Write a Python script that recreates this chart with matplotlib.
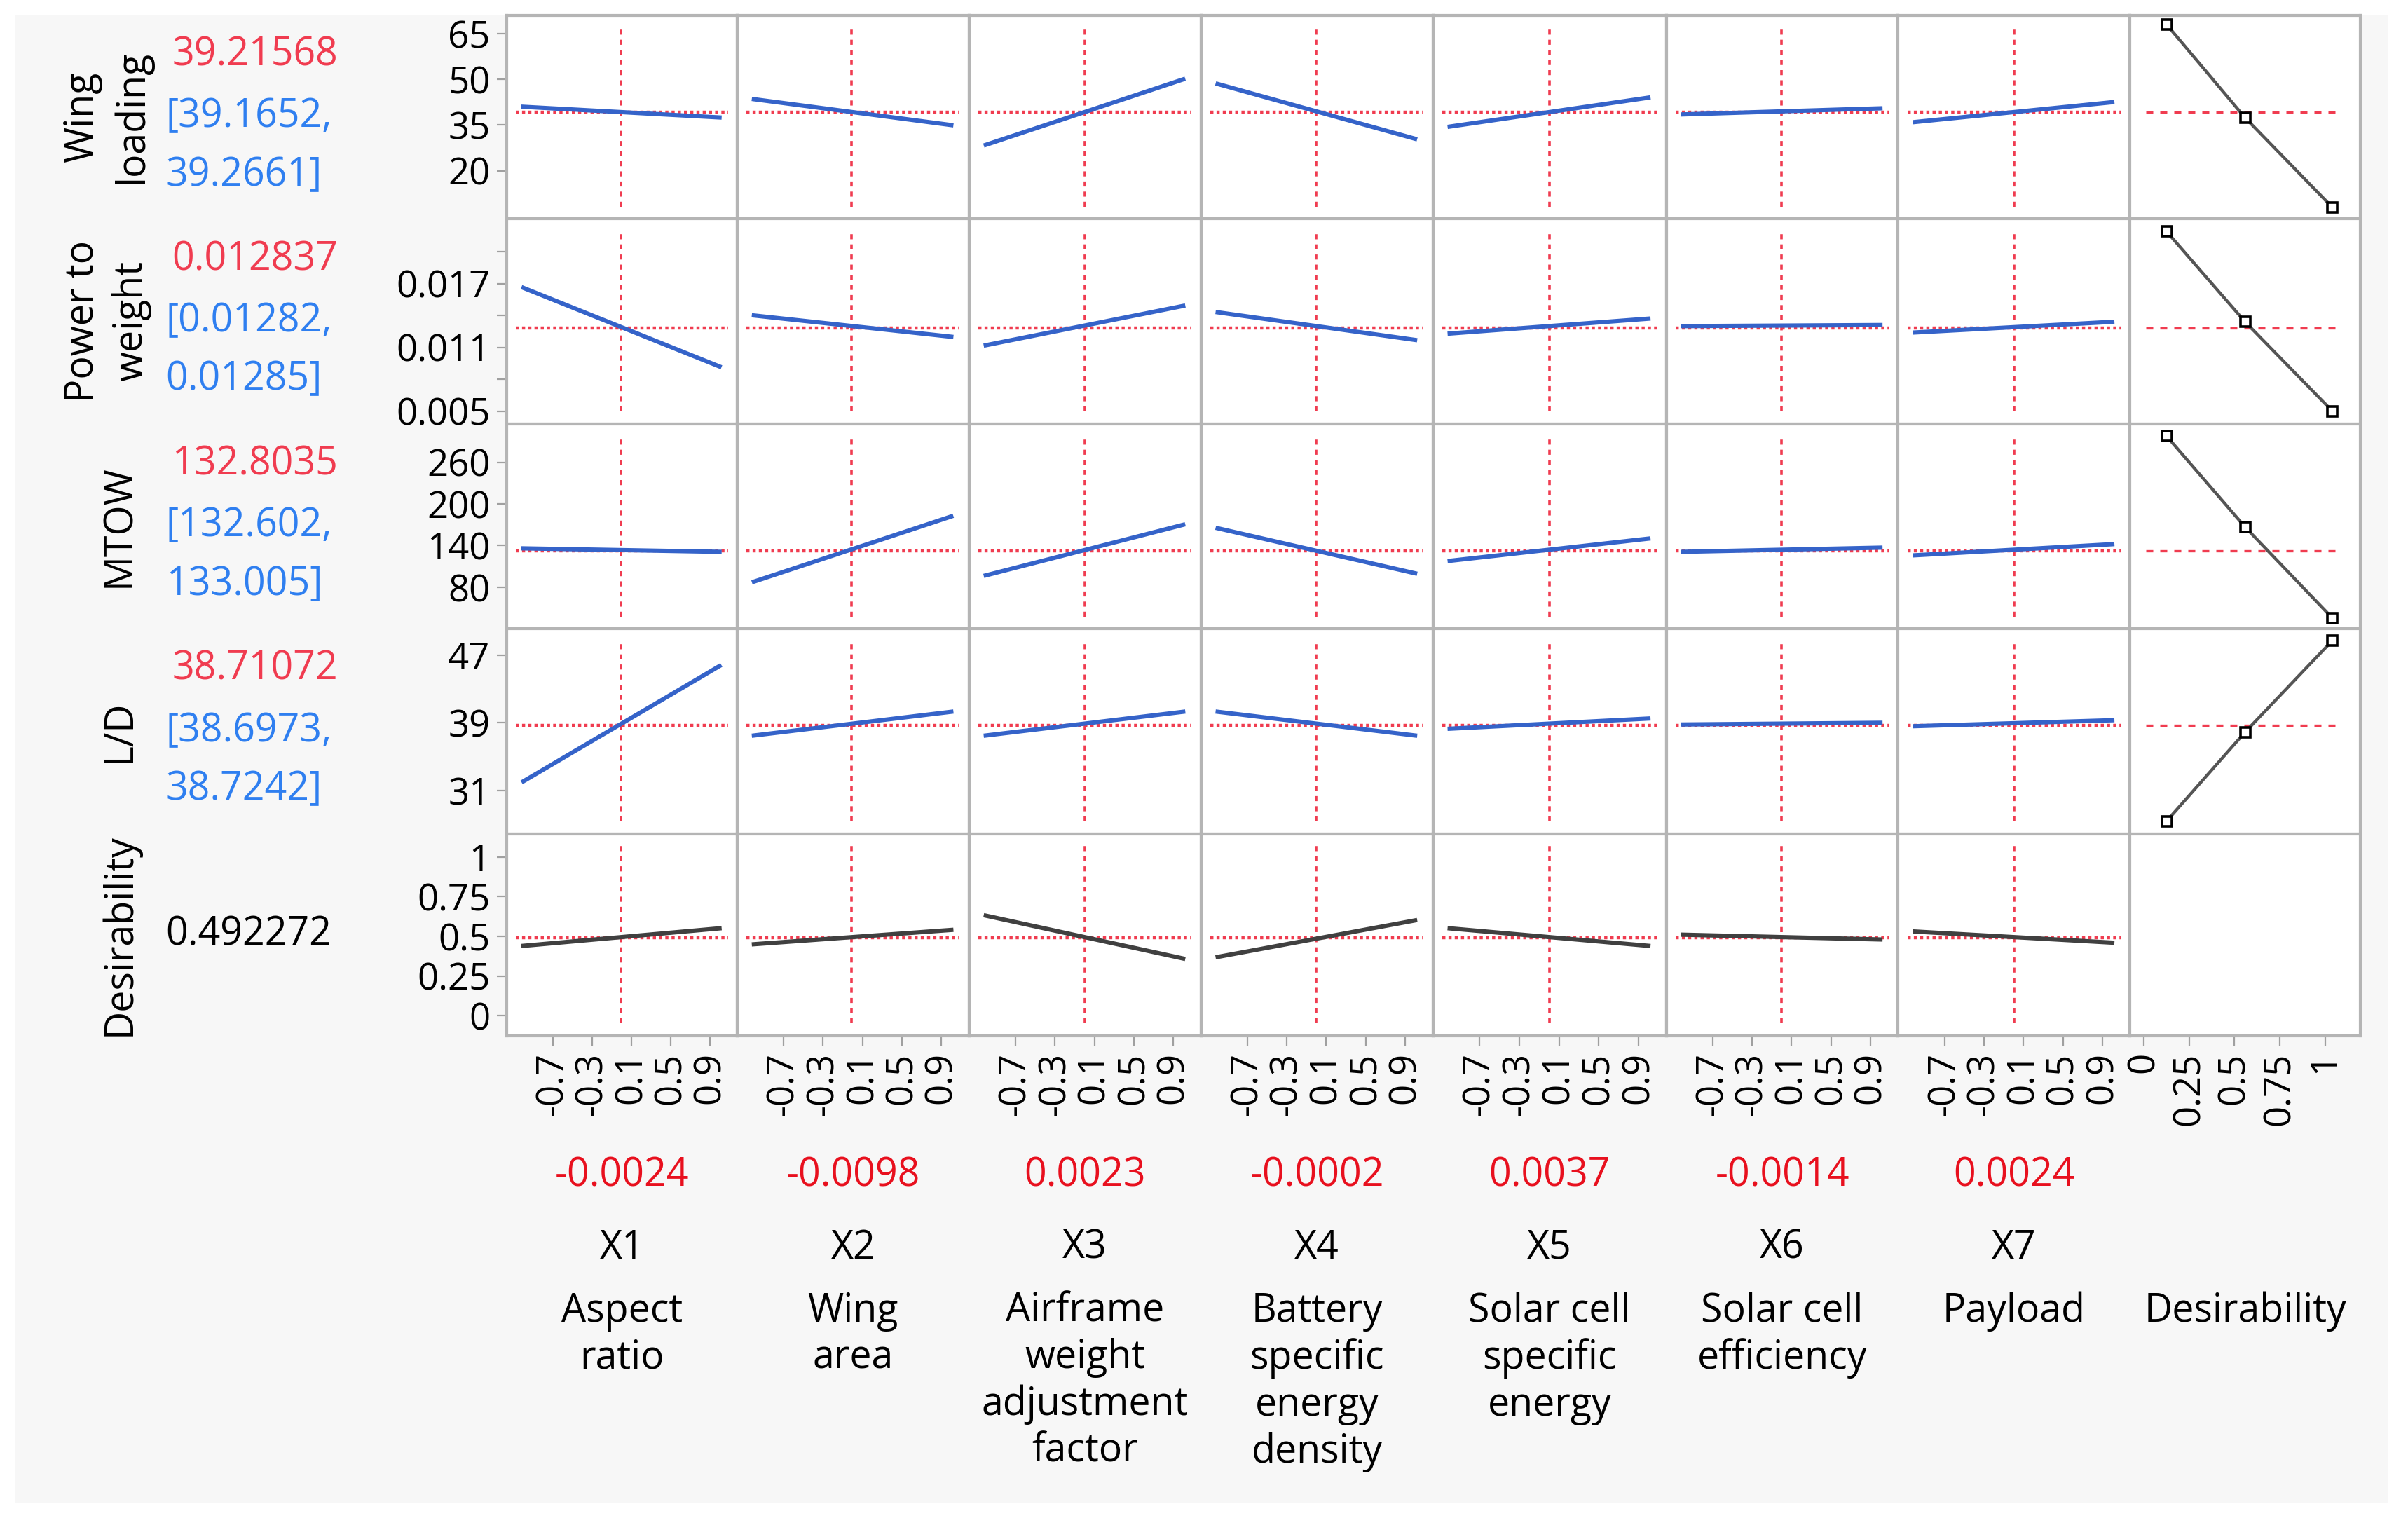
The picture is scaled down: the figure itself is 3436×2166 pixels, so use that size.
import matplotlib
matplotlib.use("Agg")
import matplotlib.pyplot as plt
from matplotlib.patches import Rectangle

plt.rcParams['font.family'] = ['Open Sans', 'DejaVu Sans']

responses = ["Wing\nloading", "Power to\nweight", "MTOW", "L/D", "Desirability"]
current = [39.21568, 0.012837, 132.8035, 38.71072, 0.492272]
cur_txt = ["39.21568", "0.012837", "132.8035", "38.71072", "0.492272"]
ci_lo = ["[39.1652,", "[0.01282,", "[132.602,", "[38.6973,", None]
ci_hi = ["39.2661]", "0.01285]", "133.005]", "38.7242]", None]
ylims = [(4.2, 71), (0.0038, 0.0231), (20, 315.6), (25.9, 50.1), (-0.126, 1.146)]
yticks = [[20, 35, 50, 65], [0.005, 0.008, 0.011, 0.014, 0.017, 0.020],
          [80, 140, 200, 260], [31, 39, 47], [0, 0.25, 0.5, 0.75, 1]]
yticklabels = [["20", "35", "50", "65"], ["0.005", "", "0.011", "", "0.017", ""],
               ["80", "140", "200", "260"], ["31", "39", "47"], ["0", "0.25", "0.5", "0.75", "1"]]

factors = ["X1", "X2", "X3", "X4", "X5", "X6", "X7"]
factor_desc = ["Aspect\nratio", "Wing\narea", "Airframe\nweight\nadjustment\nfactor",
               "Battery\nspecific\nenergy\ndensity", "Solar cell\nspecific\nenergy",
               "Solar cell\nefficiency", "Payload"]
factor_cur = [-0.0024, -0.0098, 0.0023, -0.0002, 0.0037, -0.0014, 0.0024]
factor_cur_txt = ["-0.0024", "-0.0098", "0.0023", "-0.0002", "0.0037", "-0.0014", "0.0024"]
x_ends = [-1.0, 1.0]
xticks = [-0.7, -0.3, 0.1, 0.5, 0.9]

prof = [
    [(41, 37.5), (43.5, 35), (28.5, 50), (48.5, 30.5), (34.5, 44), (38.5, 40.5), (36, 42.5)],
    [(0.0166, 0.0092), (0.0140, 0.0120), (0.0112, 0.0149), (0.0143, 0.0117),
     (0.0123, 0.0137), (0.0130, 0.0131), (0.0124, 0.0134)],
    [(136, 131), (88, 182), (97, 170), (165, 100), (118, 150), (131, 137), (126, 142)],
    [(32.1, 45.7), (37.5, 40.3), (37.5, 40.3), (40.3, 37.5), (38.3, 39.5), (38.8, 39.0), (38.6, 39.3)],
    [(0.44, 0.55), (0.45, 0.54), (0.63, 0.36), (0.37, 0.60), (0.55, 0.44), (0.51, 0.48), (0.53, 0.46)],
]
des_x = [[0.126, 0.559, 1.04], [0.126, 0.559, 1.04], [0.126, 0.559, 1.04], [0.126, 0.559, 1.04]]
des_y = [[68, 37.4, 8], [0.0219, 0.0134, 0.0050], [297.8, 166.7, 35.6], [27.4, 37.9, 48.7]]
des_ticks = [0, 0.25, 0.5, 0.75, 1]

W, H = 1568, 985
fig = plt.figure(figsize=(17.18, 10.83), dpi=200)
fig.patches.append(Rectangle((10 / W, 1 - 975 / H), 1545 / W, 965 / H, transform=fig.transFigure,
                             facecolor='#f7f7f7', edgecolor='none', zorder=-10))
cols = [330, 480, 631, 782, 933, 1085, 1236, 1387, 1537]
rows = [10, 142, 275, 408, 541, 672]
RED = '#f03c50'
BLUE = '#2f7ff0'
LINE = '#3563c9'
FS = 19
for r in range(5):
    for c in range(8):
        ax = fig.add_axes([cols[c] / W, 1 - rows[r + 1] / H, (cols[c + 1] - cols[c]) / W,
                           (rows[r + 1] - rows[r]) / H])
        ax.set_facecolor('white')
        for s in ax.spines.values():
            s.set_color('#b5b5b5'); s.set_linewidth(1.5)
        ax.set_ylim(*ylims[r])
        ax.tick_params(length=5, color='#a0a0a0', labelsize=FS)
        if c < 7:
            ax.set_xlim(-1.17, 1.18)
            col = '#404040' if r == 4 else LINE
            ax.plot(x_ends, prof[r][c], color=col, lw=2.2, zorder=3)
            ax.axvline(factor_cur[c], ymin=0.06, ymax=0.94, color=RED, ls=(0, (2, 2)), lw=1.3)
            ax.axhline(current[r], xmin=0.04, xmax=0.96, color=RED, ls=(0, (1, 1)), lw=1.6)
            ax.set_xticks(xticks)
            ax.set_xticklabels([str(v) for v in xticks], rotation=90)
        else:
            ax.set_xlim(-0.076, 1.195)
            if r < 4:
                ax.plot(des_x[r], des_y[r], color='#555555', lw=1.6, marker='s', ms=5,
                        mfc='white', mec='black', mew=1.3, zorder=3)
                ax.axhline(current[r], xmin=0.07, xmax=0.9, color=RED, ls=(0, (3, 3)), lw=1.2)
            ax.set_xticks(des_ticks)
            ax.set_xticklabels(["0", "0.25", "0.5", "0.75", "1"], rotation=90)
        ax.set_yticks(yticks[r])
        if c == 0:
            ax.set_yticklabels(yticklabels[r])
        else:
            ax.tick_params(axis='y', left=False, labelleft=False)
        if r != 4:
            ax.tick_params(axis='x', bottom=False, labelbottom=False)

for r in range(5):
    yc = 1 - (rows[r] + rows[r + 1]) / 2 / H
    ax_x = 70 / W if r < 2 else 78 / W
    fig.text(ax_x, yc, responses[r], rotation=90, ha='center', va='center', fontsize=FS + 1,
             linespacing=1.3)
    if ci_lo[r] is None:
        fig.text(108 / W, yc, cur_txt[r], ha='left', va='center', fontsize=FS + 1, color='black')
    else:
        fig.text(112 / W, yc + 40 / H, cur_txt[r], ha='left', va='center', fontsize=FS + 1, color=RED)
        fig.text(108 / W, yc, ci_lo[r], ha='left', va='center', fontsize=FS + 1, color=BLUE)
        fig.text(108 / W, yc - 38 / H, ci_hi[r], ha='left', va='center', fontsize=FS + 1, color=BLUE)

for c in range(8):
    xc = (cols[c] + cols[c + 1]) / 2 / W
    if c < 7:
        fig.text(xc, 1 - 763 / H, factor_cur_txt[c], ha='center', va='center', fontsize=FS + 1,
                 color='#e8101e')
        fig.text(xc, 1 - 810 / H, factors[c], ha='center', va='center', fontsize=FS + 1)
        fig.text(xc, 1 - 838 / H, factor_desc[c], ha='center', va='top', fontsize=FS + 1,
                 linespacing=1.22)
    else:
        fig.text(xc, 1 - 838 / H, "Desirability", ha='center', va='top', fontsize=FS + 1)

fig.savefig("out.png", dpi=200, facecolor='white')
